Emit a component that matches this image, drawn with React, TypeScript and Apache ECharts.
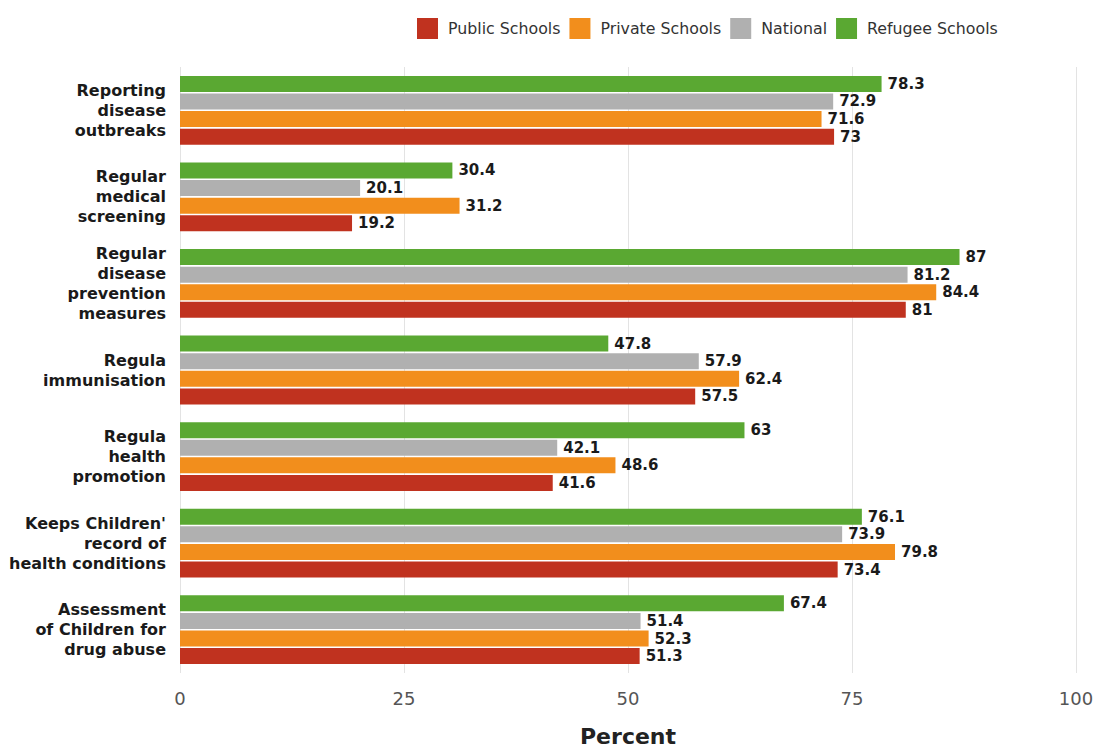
import React, { useEffect, useRef } from "react";
import * as echarts from "echarts";

const categories = [
  "Reporting\ndisease\noutbreaks",
  "Regular\nmedical\nscreening",
  "Regular\ndisease\nprevention\nmeasures",
  "Regula\nimmunisation",
  "Regula\nhealth\npromotion",
  "Keeps Children'\nrecord of\nhealth conditions",
  "Assessment\nof Children for\ndrug abuse",
];
const publicSchools = [73, 19.2, 81, 57.5, 41.6, 73.4, 51.3];
const privateSchools = [71.6, 31.2, 84.4, 62.4, 48.6, 79.8, 52.3];
const national = [72.9, 20.1, 81.2, 57.9, 42.1, 73.9, 51.4];
const refugeeSchools = [78.3, 30.4, 87, 47.8, 63, 76.1, 67.4];
const xTicks = [0, 25, 50, 75, 100];
const legendNames = ["Public Schools", "Private Schools", "National", "Refugee Schools"];

const FONT = "DejaVu Sans";

export default function App() {
  const ref = useRef<HTMLDivElement>(null);
  useEffect(() => {
    if (!ref.current) return;
    const chart = echarts.init(ref.current, undefined, { renderer: "svg" });
    const mk = (name: string, data: number[], color: string) => ({
      name,
      type: "bar",
      data,
      barWidth: 16,
      barGap: "10%",
      itemStyle: { color },
      label: {
        show: true,
        position: "right",
        distance: 6,
        fontFamily: FONT,
        fontWeight: "bold",
        fontSize: 15,
        color: "#1a1a1a",
      },
    });
    chart.setOption({
      animation: false,
      textStyle: { fontFamily: FONT },
      legend: {
        top: 13,
        left: 412,
        itemWidth: 21,
        itemHeight: 21,
        itemGap: 9,
        icon: "rect",
        textStyle: { fontFamily: FONT, fontSize: 15.8, color: "#333", padding: [0, 0, 0, 5] },
        data: legendNames,
      },
      grid: { left: 180, right: 23, top: 67, bottom: 69, containLabel: false },
      xAxis: {
        type: "value",
        min: 0,
        max: 100,
        interval: 25,
        name: "Percent",
        nameLocation: "middle",
        nameGap: 52,
        nameTextStyle: { fontFamily: FONT, fontSize: 22, fontWeight: "bold", color: "#222" },
        axisLabel: { fontFamily: FONT, fontSize: 18, color: "#555", margin: 16,
          formatter: (v: number) => (xTicks.includes(v) ? String(v) : "") },
        axisLine: { show: false },
        axisTick: { show: false },
        splitLine: { lineStyle: { color: "#e3e3e3", width: 1 } },
      },
      yAxis: {
        type: "category",
        data: categories,
        inverse: true,
        axisLine: { show: false },
        axisTick: { show: false },
        axisLabel: {
          fontFamily: FONT,
          fontSize: 16,
          fontWeight: "bold",
          color: "#1a1a1a",
          lineHeight: 20,
          margin: 14,
          align: "right",
        },
      },
      series: [
        mk("Refugee Schools", refugeeSchools, "#5aa832"),
        mk("National", national, "#b0b0b0"),
        mk("Private Schools", privateSchools, "#f28e1c"),
        mk("Public Schools", publicSchools, "#c0321f"),
      ],
    });
    return () => chart.dispose();
  }, []);
  return <div ref={ref} style={{ width: 1099, height: 752, position: "absolute", left: 0, top: 0 }} />;
}
